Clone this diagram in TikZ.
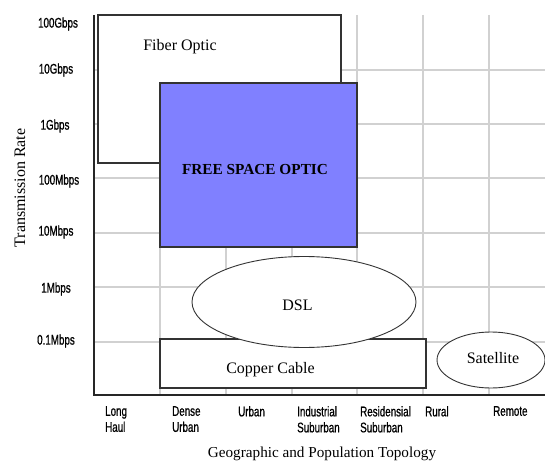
\documentclass[tikz,border=0pt]{standalone}
\usepackage{fontspec}
\setmainfont{Liberation Serif}
\newfontfamily\tickfont[FakeStretch=0.7,FakeBold=0.8]{Liberation Sans}
\usepackage{tikz}
\usetikzlibrary{positioning, shapes.geometric}

\begin{document}
\begin{tikzpicture}[
                x=1pt, y=-1pt,
                grid/.style={draw=black!18, line width=1.3pt},
                axis/.style={draw=black!85, line width=1.6pt},
                box/.style={draw=black!80, fill=white, rectangle, line width=1.1pt, inner sep=0pt},
                oval/.style={draw=black!80, fill=white, ellipse, line width=0.9pt, inner sep=0pt},
                lbl/.style={font=\fontsize{16}{18}\selectfont, inner sep=0pt},
                tick/.style={font=\tickfont\fontsize{14}{16}\selectfont, inner sep=0pt},
                cat/.style={tick, anchor=north west, align=left}
            ]
            \useasboundingbox (0,0) rectangle (545,470);
            % Grid
            \foreach \gx in {160,226,292,357,423,489}
                \draw[grid] (\gx,15) -- (\gx,395);
            \foreach \gy in {70,124,178,233,287,342}
                \draw[grid] (94,\gy) -- (545,\gy);

            % Nodes
            \node[box, minimum width=243pt, minimum height=148pt] (fiber) at (219.5,89) {};
            \node[lbl] (fibertxt) at (180,47) {Fiber Optic};
            \node[box, fill={rgb,255:red,128;green,128;blue,255}, minimum width=197pt, minimum height=164pt] (fso) at (258.5,165) {};
            \node[lbl, font=\fontsize{15.3}{17}\bfseries] (fsotxt) at (255,170) {FREE SPACE OPTIC};
            \node[box, minimum width=266pt, minimum height=49pt] (copper) at (293,363.5) {};
            \node[lbl] (coppertxt) at (270.5,370) {Copper Cable};
            \node[oval, minimum width=224pt, minimum height=91pt] (dsl) at (304,302) {};
            \node[lbl] (dsltxt) at (297.5,305) {DSL};
            \node[oval, minimum width=108pt, minimum height=56pt] (sat) at (491,360) {};
            \node[lbl] (sattxt) at (493,358) {Satellite};

            % Axes
            \coordinate (origin) at (94,395);
            \coordinate (ytop) at (94,15);
            \coordinate (xend) at (545,395);
            \draw[axis] (ytop) -- (origin) -- (xend);

            % Rates
            \node[tick] (r100g) at (58,24) {100Gbps};
            \node[tick] (r10g) at (56,70) {10Gbps};
            \node[tick] (r1g) at (55,126) {1Gbps};
            \node[tick] (r100m) at (59,181) {100Mbps};
            \node[tick] (r10m) at (56,232) {10Mbps};
            \node[tick] (r1m) at (56,289) {1Mbps};
            \node[tick] (r01m) at (56,341) {0.1Mbps};
            \node[lbl, rotate=90] (ytitle) at (20,188) {Transmission Rate};

            % Topology
            \node[cat] (longhaul) at (105,406) {Long\\Haul};
            \node[cat] (dense) at (172,406) {Dense\\Urban};
            \node[cat] (urban) at (238,406) {Urban};
            \node[cat] (industrial) at (297,406) {Industrial\\Suburban};
            \node[cat] (residential) at (360,406) {Residensial\\Suburban};
            \node[cat] (rural) at (425,406) {Rural};
            \node[cat] (remote) at (493,406) {Remote};
            \node[lbl, anchor=base, font=\fontsize{15.2}{17}\selectfont] (xtitle) at (322,457) {Geographic and Population Topology};
\end{tikzpicture}
\end{document}
